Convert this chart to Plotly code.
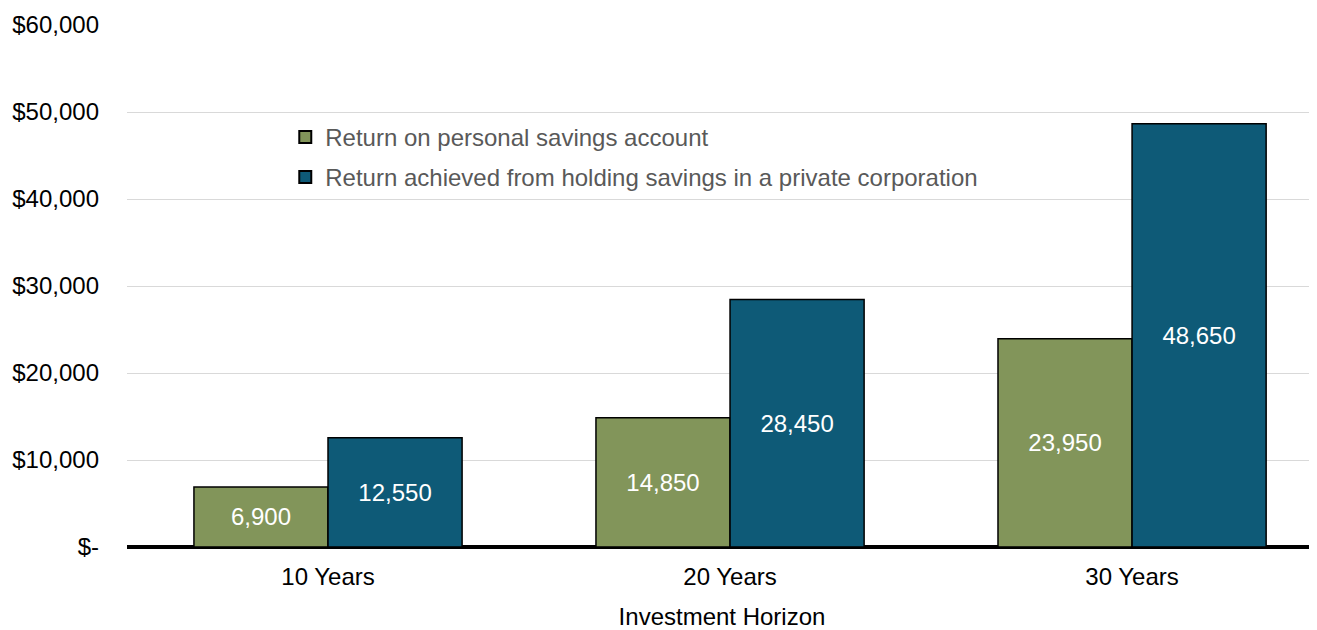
import plotly.graph_objects as go

categories = ["10 Years", "20 Years", "30 Years"]
personal = [6900, 14850, 23950]
corporate = [12550, 28450, 48650]
series_names = ["Return on personal savings account",
                "Return achieved from holding savings in a private corporation"]
y_tickvals = [0, 10000, 20000, 30000, 40000, 50000, 60000]
y_ticktext = ["$-", "$10,000", "$20,000", "$30,000", "$40,000", "$50,000", "$60,000"]

FONT = "Liberation Sans, Arial, sans-serif"
FS = 24
green = "#82955a"
blue = "#0e5a77"

fig = go.Figure()
for name, vals, col, grp in [(series_names[0], personal, green, "a"),
                             (series_names[1], corporate, blue, "b")]:
    fig.add_trace(go.Bar(
        x=categories, y=vals, name=name, legendgroup=grp,
        marker=dict(color=col, line=dict(color="black", width=1.5)),
        text=[f"{v:,}" for v in vals], textposition="inside",
        insidetextanchor="middle",
        textfont=dict(color="white", size=FS, family=FONT),
        hoverinfo="skip",
    ))

fig.update_layout(
    width=1309, height=622,
    margin=dict(l=119, r=0, t=17, b=83),
    paper_bgcolor="white", plot_bgcolor="white",
    barmode="group", bargap=0.333, bargroupgap=0,
    font=dict(family=FONT, size=FS, color="black"),
    legend=dict(x=0.133, y=0.828, xanchor="left", yanchor="top",
                font=dict(size=FS, color="#595959", family=FONT),
                bgcolor="rgba(0,0,0,0)", tracegroupgap=6,
                itemsizing="constant"),
    xaxis=dict(range=[-0.5, 2.46], showgrid=False, showline=False,
               ticks="", ticklabelstandoff=13, automargin=False,
               tickfont=dict(size=FS, color="black"),
               title=dict(text="Investment Horizon", font=dict(size=FS, color="black"),
                          standoff=26)),
    yaxis=dict(range=[0, 60000], tickvals=y_tickvals, ticktext=y_ticktext,
               showgrid=True, gridcolor="#d9d9d9", gridwidth=1.3,
               zeroline=True, zerolinecolor="black", zerolinewidth=4,
               showline=False, ticks="", ticklabelstandoff=27, automargin=False,
               tickfont=dict(size=FS, color="black")),
)

fig.write_html("out.html")
